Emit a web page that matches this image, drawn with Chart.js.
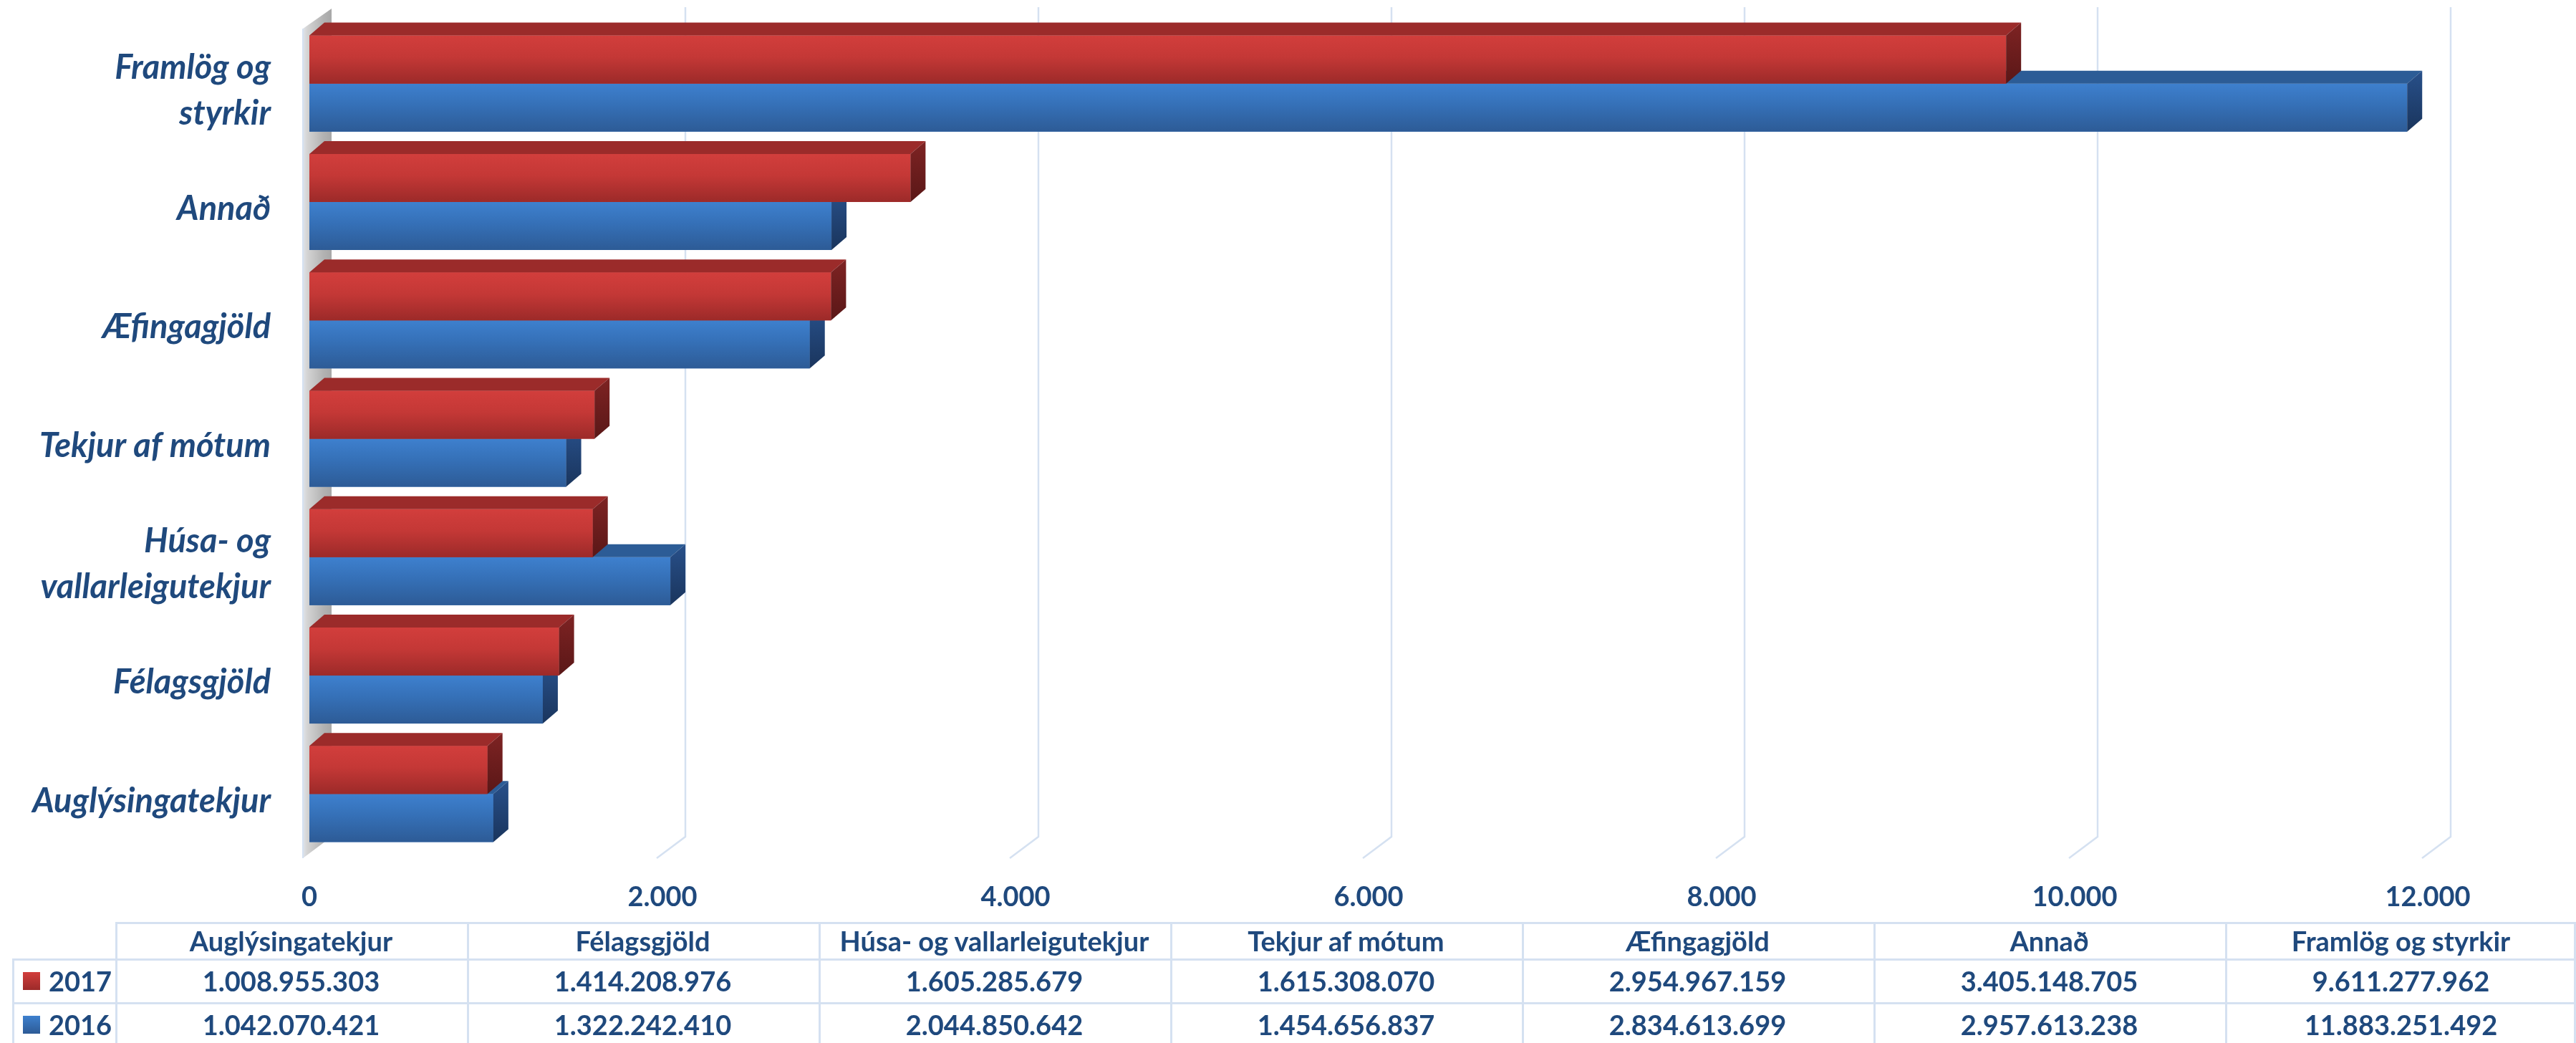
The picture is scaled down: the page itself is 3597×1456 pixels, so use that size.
<!DOCTYPE html>
<html><head><meta charset="utf-8">
<script src="https://cdn.jsdelivr.net/npm/chart.js@4.4.1/dist/chart.umd.min.js"></script>
<style>
html,body{margin:0;padding:0;background:#fff;}
#wrap{position:relative;width:3597px;height:1456px;overflow:hidden;background:#fff;}
#chart{position:absolute;left:0;top:0;}
.cell{position:absolute;box-sizing:border-box;display:flex;align-items:center;justify-content:center;font-family:Lato,'Open Sans',sans-serif;font-weight:700;font-size:38px;color:#1F497D;white-space:nowrap;}
.line{position:absolute;background:#D5E1F1;}
.mark{position:absolute;width:24px;height:25px;}
</style></head><body>
<div id="wrap"><canvas id="chart" width="3597" height="1456"></canvas><div id="table"></div></div>
<script>
// ---------- DATA ----------
const categories = ['Auglýsingatekjur','Félagsgjöld','Húsa- og vallarleigutekjur','Tekjur af mótum','Æfingagjöld','Annað','Framlög og styrkir'];
const categoryLabelLines = [['Auglýsingatekjur'],['Félagsgjöld'],['Húsa- og','vallarleigutekjur'],['Tekjur af mótum'],['Æfingagjöld'],['Annað'],['Framlög og','styrkir']];
const seriesNames = ['2017','2016'];
const values2017 = [1008955303,1414208976,1605285679,1615308070,2954967159,3405148705,9611277962];
const values2016 = [1042070421,1322242410,2044850642,1454656837,2834613699,2957613238,11883251492];
const axisTickValues = [0,2000,4000,6000,8000,10000,12000]; // millions

// ---------- STYLE ----------
const TEXT = '#1F497D';
const FONT = 'Lato, "Open Sans", sans-serif';
const styles = [
  {front:['#D23E3C','#C43836','#9C2A29'], top:'#9B2B2A', side:['#7E2323','#5A1717'], mid:'#C43836'},
  {front:['#3E80CE','#3570B7','#2D5B96'], top:'#2C5C96', side:['#28508A','#1A355D'], mid:'#3570B7'}
];
const DX = 21, DY = 18;

function fmt(n){ return Math.round(n).toString().replace(/\B(?=(\d{3})+(?!\d))/g,'.'); }

const threeD = {
  id:'threeD',
  beforeDatasetsDraw(chart){
    const {ctx, chartArea:a, scales:{x}} = chart;
    const x0 = x.getPixelForValue(0);
    ctx.save();
    ctx.strokeStyle = '#D5E1F1';
    ctx.lineWidth = 2.5;
    axisTickValues.forEach(v => {
      if (v === 0) return;
      const xb = x.getPixelForValue(v) + 32;
      ctx.beginPath();
      ctx.moveTo(xb, a.top - 24);
      ctx.lineTo(xb, a.bottom - 23);
      ctx.lineTo(xb - 40, a.bottom + 7);
      ctx.stroke();
    });
    const g = ctx.createLinearGradient(x0 - 9, 0, x0 + 31, 0);
    g.addColorStop(0, '#dfe3ea');
    g.addColorStop(0.15, '#d4d4d4');
    g.addColorStop(0.7, '#b3b3b3');
    g.addColorStop(1, '#a8a8a8');
    ctx.fillStyle = g;
    ctx.beginPath();
    ctx.moveTo(x0 - 9, a.top + 6);
    ctx.lineTo(x0 + 31, a.top - 22);
    ctx.lineTo(x0 + 31, a.bottom - 23);
    ctx.lineTo(x0 - 9, a.bottom + 7);
    ctx.closePath();
    ctx.fill();
    ctx.strokeStyle = '#D5E1F1';
    ctx.lineWidth = 2;
    ctx.beginPath();
    ctx.moveTo(x0 - 9, a.top + 6);
    ctx.lineTo(x0 - 9, a.bottom + 7);
    ctx.stroke();
    ctx.restore();
  },
  afterDatasetDraw(chart, args){
    const ctx = chart.ctx, st = styles[args.index];
    ctx.save();
    args.meta.data.forEach(bar => {
      const p = bar.getProps(['x','y','base','height'], true);
      const t = p.y - p.height/2, b = p.y + p.height/2, l = p.base, r = p.x;
      const gf = ctx.createLinearGradient(0, t, 0, b);
      gf.addColorStop(0, st.front[0]); gf.addColorStop(0.45, st.front[1]); gf.addColorStop(1, st.front[2]);
      ctx.fillStyle = gf;
      ctx.fillRect(l, t, r - l, b - t);
      ctx.fillStyle = st.top;
      ctx.beginPath();
      ctx.moveTo(l, t); ctx.lineTo(r, t); ctx.lineTo(r + DX, t - DY); ctx.lineTo(l + DX, t - DY); ctx.closePath();
      ctx.fill();
      const gs = ctx.createLinearGradient(0, t - DY, 0, b);
      gs.addColorStop(0, st.side[0]); gs.addColorStop(1, st.side[1]);
      ctx.fillStyle = gs;
      ctx.beginPath();
      ctx.moveTo(r, t); ctx.lineTo(r + DX, t - DY); ctx.lineTo(r + DX, b - DY); ctx.lineTo(r, b); ctx.closePath();
      ctx.fill();
    });
    ctx.restore();
  }
};

const seriesValues = [values2017, values2016];
const chart = new Chart(document.getElementById('chart'), {
  type: 'bar',
  data: {
    labels: categoryLabelLines.slice().reverse(),
    datasets: seriesNames.map((n, i) => ({
      label: n,
      data: seriesValues[i].map(v => v / 1e6).reverse(),
      backgroundColor: styles[i].mid,
      borderWidth: 0
    }))
  },
  options: {
    indexAxis: 'y',
    responsive: false,
    animation: false,
    categoryPercentage: 0.811,
    barPercentage: 1.0,
    layout: {padding: {top: 34, right: 207, bottom: 169, left: 0}},
    plugins: {legend: {display: false}, tooltip: {enabled: false}},
    scales: {
      x: {
        min: 0, max: 12000,
        grid: {display: false, drawTicks: false},
        border: {display: false},
        afterBuildTicks: s => { s.ticks = axisTickValues.map(v => ({value: v})); },
        afterFit: s => { s.height = 96; s.paddingLeft = 0; s.paddingRight = 0; },
        ticks: {
          padding: 39, color: TEXT, maxRotation: 0, autoSkip: false,
          font: {family: FONT, size: 38, weight: 'bold'},
          callback: v => fmt(v)
        }
      },
      y: {
        grid: {display: false, drawTicks: false},
        border: {display: false},
        afterFit: s => { s.width = 432; s.paddingTop = 0; s.paddingBottom = 0; },
        ticks: {
          padding: 54, color: TEXT, labelOffset: 10, autoSkip: false,
          font: {family: FONT, size: 47, weight: 'bold', style: 'italic', lineHeight: 1.36}
        }
      }
    }
  },
  plugins: [threeD]
});

// ---------- DATA TABLE ----------
const tbl = document.getElementById('table');
const colEdges = [17, 161]; for (let i = 1; i <= categories.length; i++) colEdges.push(161 + 491 * i);
const rowEdges = [1287, 1338, 1399, 1460];
function add(cls, css, text){ const d = document.createElement('div'); d.className = cls; Object.assign(d.style, css); if (text !== undefined) d.textContent = text; tbl.appendChild(d); return d; }
add('line', {left: colEdges[1]+'px', top: rowEdges[0]+'px', width: (3597-colEdges[1])+'px', height: '3px'});
add('line', {left: colEdges[0]+'px', top: rowEdges[1]+'px', width: (3597-colEdges[0])+'px', height: '3px'});
add('line', {left: colEdges[0]+'px', top: rowEdges[2]+'px', width: (3597-colEdges[0])+'px', height: '3px'});
add('line', {left: colEdges[0]+'px', top: rowEdges[1]+'px', width: '3px', height: (1456-rowEdges[1])+'px'});
for (let i = 1; i < colEdges.length; i++) {
  const xx = Math.min(colEdges[i], 3594);
  add('line', {left: xx+'px', top: rowEdges[0]+'px', width: '3px', height: (1456-rowEdges[0])+'px'});
}
categories.forEach((c, i) => {
  add('cell', {left: colEdges[i+1]+'px', top: rowEdges[0]+'px', width: (colEdges[i+2]-colEdges[i+1])+'px', height: (rowEdges[1]-rowEdges[0])+'px'}, c);
});
seriesNames.forEach((n, r) => {
  const top = rowEdges[r+1], h = rowEdges[r+2] - rowEdges[r+1];
  add('mark', {left: '32px', top: (top + h/2 - 12)+'px', background: 'linear-gradient(' + styles[r].front[0] + ',' + styles[r].front[2] + ')'});
  add('cell', {left: '64px', top: top+'px', width: '95px', height: h+'px', justifyContent: 'flex-start', paddingLeft: '4px'}, n);
  seriesValues[r].forEach((v, i) => {
    add('cell', {left: colEdges[i+1]+'px', top: top+'px', width: (colEdges[i+2]-colEdges[i+1])+'px', height: h+'px'}, fmt(v));
  });
});
</script>
</body></html>
